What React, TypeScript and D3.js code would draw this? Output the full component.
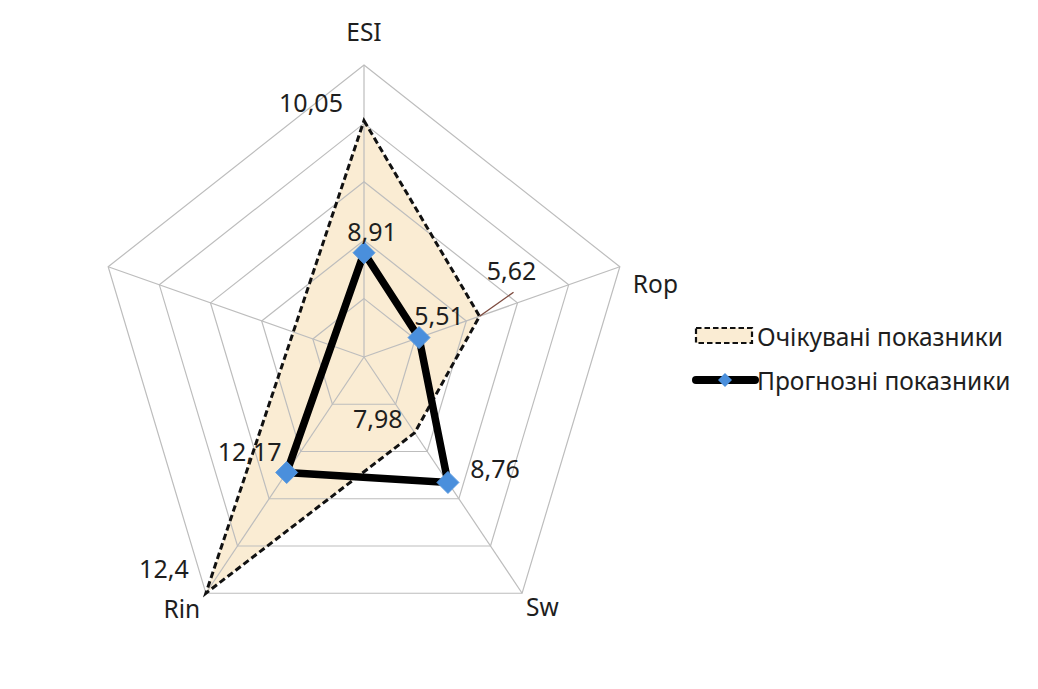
import React from "react";
import * as d3 from "d3";

// Axis names, clockwise from the top; the fifth spoke carries no category.
const categories = ["ESI", "Rop", "Sw", "Rin", ""];
// Each spoke has its own value range (min at centre, max at outer ring).
const axisMin = [8.01, 5.41, 6.79, 11.95, 0];
const axisMax = [10.53, 5.875, 10.5, 12.4, 12.5];

const expectedName = "Очікувані показники";
const forecastName = "Прогнозні показники";
const expectedValues = [10.05, 5.62, 7.98, 12.4];
const forecastValues = [8.91, 5.51, 8.76, 12.17];

const ringCount = 5;

const W = 1038;
const H = 689;
const cx = 364;
const cy = 357;
const rx = 269;
const ry = 292;

const FONT = "'Noto Sans', 'Open Sans', sans-serif";
const TEXT = "#1e1e1e";

const angles = categories.map((_, i) => -Math.PI / 2 + (i * 2 * Math.PI) / categories.length);
const scales = categories.map((_, i) =>
  d3.scaleLinear().domain([axisMin[i], axisMax[i]]).range([0, 1])
);

function pt(i: number, r: number): [number, number] {
  return [cx + rx * r * Math.cos(angles[i]), cy + ry * r * Math.sin(angles[i])];
}
function valuePt(i: number, v: number): [number, number] {
  return pt(i, scales[i](v));
}

// label offsets from their marks
const expectedLabelOffset: [number, number][] = [
  [-53, -19],
  [32, -46],
  [-37, -15],
  [-42, -25],
];
const forecastLabelOffset: [number, number][] = [
  [8, -22],
  [20, -23],
  [47, -14],
  [-37, -21],
];
const categoryLabelPos: { dx: number; dy: number; anchor: string }[] = [
  { dx: 0, dy: -34, anchor: "middle" },
  { dx: 13, dy: 17, anchor: "start" },
  { dx: 4, dy: 13, anchor: "start" },
  { dx: -24, dy: 15, anchor: "middle" },
  { dx: 0, dy: 0, anchor: "middle" },
];

const fmt = (v: number) => String(v).replace(".", ",");

export default function App() {
  const line = d3.line<[number, number]>().curve(d3.curveLinearClosed);
  const rings = d3.range(1, ringCount + 1).map((k) => k / ringCount);

  const expPts = expectedValues.map((v, i) => valuePt(i, v));
  const fcPts = forecastValues.map((v, i) => valuePt(i, v));

  const diamond = (x: number, y: number, s: number) =>
    `M${x},${y - s}L${x + s},${y}L${x},${y + s}L${x - s},${y}Z`;

  const leaderFrom = expPts[1];
  const leaderTo: [number, number] = [leaderFrom[0] + 34, leaderFrom[1] - 24];

  return (
    <svg
      width={W}
      height={H}
      viewBox={`0 0 ${W} ${H}`}
      style={{ position: "absolute", left: 0, top: 0, background: "#fff" }}
    >
      {/* expected area fill */}
      <path d={line(expPts) ?? ""} fill="#faecd3" stroke="none" />

      {/* grid rings and spokes */}
      <g fill="none" stroke="#bdbdbd" strokeWidth={1.2}>
        {rings.map((r) => (
          <path key={r} d={line(categories.map((_, i) => pt(i, r))) ?? ""} />
        ))}
        {categories.map((_, i) => {
          const [x, y] = pt(i, 1);
          return <line key={i} x1={cx} y1={cy} x2={x} y2={y} />;
        })}
      </g>

      {/* expected outline */}
      <path
        d={line(expPts) ?? ""}
        fill="none"
        stroke="#111"
        strokeWidth={3}
        strokeDasharray="6.5 3.5"
      />

      {/* forecast outline */}
      <path
        d={line(fcPts) ?? ""}
        fill="none"
        stroke="#000"
        strokeWidth={7.5}
        strokeLinejoin="miter"
      />
      {fcPts.map(([x, y], i) => (
        <path key={i} d={diamond(x, y, 11)} fill="#4a8fdc" stroke="#5a9ae0" strokeWidth={1} />
      ))}

      {/* leader for the Rop expected value */}
      <line
        x1={leaderFrom[0]}
        y1={leaderFrom[1]}
        x2={leaderTo[0]}
        y2={leaderTo[1]}
        stroke="#7d4b3f"
        strokeWidth={1.4}
      />

      {/* category labels */}
      <g fontFamily={FONT} fontSize={24.5} fill={TEXT}>
        {categories.map((c, i) => {
          if (!c) return null;
          const [x, y] = pt(i, 1);
          const p = categoryLabelPos[i];
          return (
            <text
              key={c}
              x={x + p.dx}
              y={y + p.dy}
              textAnchor={p.anchor}
              dominantBaseline="central"
            >
              {c}
            </text>
          );
        })}
      </g>

      {/* value labels */}
      <g fontFamily={FONT} fontSize={25} fill={TEXT} textAnchor="middle">
        {expectedValues.map((v, i) => (
          <text
            key={"e" + i}
            x={expPts[i][0] + expectedLabelOffset[i][0]}
            y={expPts[i][1] + expectedLabelOffset[i][1]}
            dominantBaseline="central"
          >
            {fmt(v)}
          </text>
        ))}
        {forecastValues.map((v, i) => (
          <text
            key={"f" + i}
            x={fcPts[i][0] + forecastLabelOffset[i][0]}
            y={fcPts[i][1] + forecastLabelOffset[i][1]}
            dominantBaseline="central"
          >
            {fmt(v)}
          </text>
        ))}
      </g>

      {/* legend */}
      <g fontFamily={FONT} fontSize={24.5} fill={TEXT}>
        <rect
          x={696}
          y={328}
          width={56}
          height={15}
          fill="#faecd3"
          stroke="#111"
          strokeWidth={2.2}
          strokeDasharray="5.5 3"
        />
        <text x={757} y={336} dominantBaseline="central">
          {expectedName}
        </text>
        <line x1={696} y1={380} x2={755} y2={380} stroke="#000" strokeWidth={8} strokeLinecap="round" />
        <path d={diamond(725, 380, 7)} fill="#4a8fdc" />
        <text x={757} y={380} dominantBaseline="central">
          {forecastName}
        </text>
      </g>
    </svg>
  );
}
